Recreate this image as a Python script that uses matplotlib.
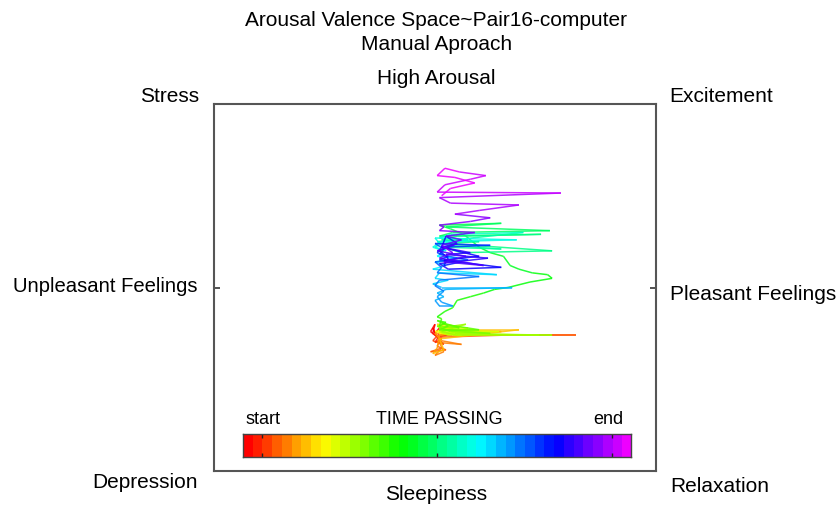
import numpy as np
import matplotlib
matplotlib.use("Agg")
import matplotlib.pyplot as plt
from matplotlib.colors import ListedColormap
from matplotlib.collections import LineCollection

plt.rcParams['font.family'] = ['Liberation Sans', 'DejaVu Sans']

# trajectory samples in time order (valence, arousal), equal time steps
valence = [
    # red -> yellow
    0.02, 0.00, -0.01, 0.01, -0.02, 0.00, -0.01, 0.03, 0.00, 0.02,
    0.10, 0.01, 0.04, -0.01, 0.02, 0.08, 0.64, 0.30, 0.03, 0.01,
    0.05, -0.02, 0.03, 0.00, 0.04, 0.02, 0.12, 0.03, 0.00, 0.15,
    0.02, 0.01, -0.01, 0.04, 0.02, 0.38, 0.05, 0.30, 0.02, 0.06,
    # green
    0.01, 0.10, 0.03, 0.20, 0.02, 0.08, 0.00, 0.12, 0.03, 0.29,
    0.04, 0.01, 0.15, 0.05, 0.47, 0.06, 0.02, 0.18, 0.04, 0.09,
    0.53, 0.10, 0.03, 0.14, 0.02, 0.07, 0.25, 0.05, 0.01, 0.11,
    0.03, 0.06, 0.02, 0.20, 0.04, 0.01, 0.05, 0.02, 0.03, 0.01,
    # spring green climb
    0.01, 0.045, 0.08, 0.10, 0.16, 0.22, 0.27, 0.33, 0.43, 0.53,
    0.51, 0.44, 0.38, 0.34, 0.31, 0.25, 0.20, 0.14, 0.11, 0.07,
    # cyan
    0.02, 0.30, 0.05, 0.52, 0.08, 0.02, 0.48, 0.10, 0.03, 0.20,
    0.05, 0.53, 0.12, 0.04, 0.30, 0.06, 0.01, 0.40, 0.07, 0.02,
    0.15, 0.03, 0.00, 0.05,
    # blue
    0.00, 0.37, 0.03, -0.01, 0.04, 0.01, 0.10, 0.00, 0.05, -0.01,
    0.28, 0.02, 0.00, 0.06, -0.01, 0.03, 0.35, 0.05, 0.01, 0.04,
    0.00, 0.02, 0.08, 0.03, 0.01, 0.04, 0.00, 0.02, 0.20, 0.01,
    0.03, 0.00, 0.15, 0.02, 0.04, 0.00, 0.25, 0.03, 0.01, 0.06,
    # violet / purple, middle
    0.02, 0.12, 0.04, 0.06, 0.02, 0.10, 0.05, 0.03, 0.20, 0.04,
    0.30, 0.06, 0.02, 0.24, 0.05, 0.16, 0.03, 0.10, 0.01, 0.14,
    0.04, 0.22, 0.02, 0.08, 0.03, 0.12, 0.05, 0.18, 0.02, 0.04,
    # violet -> magenta, top
    0.02, 0.16, 0.25, 0.09, 0.20, 0.38, 0.07, 0.02, 0.57, 0.01,
    0.045, 0.16, 0.23, 0.11, 0.045, 0.01, 0.09, 0.18, 0.07, 0.03,
]
arousal = [
    -0.22, -0.25, -0.22, -0.27, -0.24, -0.20, -0.25, -0.28, -0.30, -0.26,
    -0.25, -0.27, -0.31, -0.29, -0.25, -0.26, -0.26, -0.26, -0.27, -0.32,
    -0.34, -0.35, -0.33, -0.37, -0.35, -0.30, -0.31, -0.29, -0.25, -0.24,
    -0.26, -0.33, -0.36, -0.34, -0.28, -0.23, -0.23, -0.24, -0.25, -0.22,
    -0.20, -0.21, -0.23, -0.24, -0.25, -0.22, -0.24, -0.26, -0.25, -0.24,
    -0.23, -0.21, -0.22, -0.25, -0.26, -0.26, -0.24, -0.23, -0.22, -0.25,
    -0.26, -0.26, -0.24, -0.20, -0.22, -0.24, -0.25, -0.23, -0.21, -0.22,
    -0.19, -0.21, -0.23, -0.23, -0.20, -0.18, -0.19, -0.21, -0.17, -0.16,
    -0.16, -0.13, -0.11, -0.07, -0.05, -0.03, -0.01, 0.00, 0.03, 0.05,
    0.07, 0.08, 0.10, 0.12, 0.17, 0.19, 0.22, 0.28, 0.30, 0.32,
    0.34, 0.35, 0.33, 0.31, 0.30, 0.28, 0.29, 0.28, 0.26, 0.25,
    0.24, 0.20, 0.19, 0.22, 0.21, 0.23, 0.25, 0.30, 0.29, 0.27,
    0.26, 0.24, 0.22, 0.20,
    0.27, 0.26, 0.25, 0.22, 0.20, 0.17, 0.16, 0.14, 0.12, 0.10,
    0.07, 0.08, 0.05, 0.04, 0.02, 0.00, 0.00, -0.01, -0.03, -0.05,
    -0.07, -0.10, -0.10, -0.08, -0.05, -0.02, 0.01, 0.04, 0.06, 0.08,
    0.11, 0.14, 0.15, 0.18, 0.21, 0.24, 0.23, 0.22, 0.19, 0.17,
    0.15, 0.14, 0.12, 0.16, 0.20, 0.24, 0.28, 0.22, 0.17, 0.15,
    0.11, 0.10, 0.13, 0.16, 0.18, 0.19, 0.22, 0.24, 0.20, 0.17,
    0.14, 0.12, 0.16, 0.19, 0.23, 0.26, 0.28, 0.30, 0.31, 0.33,
    0.34, 0.36, 0.38, 0.40, 0.42, 0.45, 0.46, 0.49, 0.515, 0.52,
    0.56, 0.59, 0.61, 0.63, 0.65, 0.61, 0.60, 0.57, 0.54, 0.50,
]

n_colors = 40
cmap = ListedColormap(plt.cm.hsv(np.linspace(0, 0.833, n_colors)))

fig = plt.figure(figsize=(8.37, 5.08), dpi=100)
ax = fig.add_axes([0.2557, 0.0728, 0.528, 0.7224])

pts = np.column_stack([valence, arousal])
segs = np.stack([pts[:-1], pts[1:]], axis=1)
t = np.linspace(0, 1, len(segs))
lc = LineCollection(segs, colors=cmap(t), linewidths=1.1, alpha=0.85)
ax.add_collection(lc)

ax.set_xlim(-1, 1)
ax.set_ylim(-1, 1)
ax.set_xticks([])
ax.set_yticks([0])
ax.set_yticklabels([])
ax.tick_params(axis='y', direction='in', length=4, width=1.2, color='#333333',
               left=True, right=True)
for s in ax.spines.values():
    s.set_color('#555555')
    s.set_linewidth(1.5)

# colorbar for time
cax = fig.add_axes([0.2903, 0.1004, 0.4636, 0.0453])
cax.imshow(np.arange(n_colors)[None, :], cmap=cmap, aspect='auto',
           extent=[0, n_colors, 0, 1])
cax.set_yticks([])
cax.set_xticks([2, 20, 38])
cax.set_xticklabels([])
cax.tick_params(axis='x', direction='in', length=3, width=1, color='#222222',
                top=True, bottom=True)
for s in cax.spines.values():
    s.set_color('#444444')
    s.set_linewidth(1)

fs = 15
fig.text(0.5215, 1 - 20 / 508, 'Arousal Valence Space~Pair16-computer', ha='center', va='center', fontsize=fs)
fig.text(0.5215, 1 - 45 / 508, 'Manual Aproach', ha='center', va='center', fontsize=fs)
fig.text(0.5215, 1 - 78 / 508, 'High Arousal', ha='center', va='center', fontsize=fs)
fig.text(0.5215, 1 - 495 / 508, 'Sleepiness', ha='center', va='center', fontsize=fs)
fig.text(170 / 837, 1 - 97 / 508, 'Stress', ha='center', va='center', fontsize=fs)
fig.text(721 / 837, 1 - 97 / 508, 'Excitement', ha='center', va='center', fontsize=fs)
fig.text(198 / 837, 1 - 287 / 508, 'Unpleasant Feelings', ha='right', va='center', fontsize=14.6)
fig.text(670 / 837, 1 - 294 / 508, 'Pleasant Feelings', ha='left', va='center', fontsize=fs)
fig.text(198 / 837, 1 - 483 / 508, 'Depression', ha='right', va='center', fontsize=fs)
fig.text(670 / 837, 1 - 487 / 508, 'Relaxation', ha='left', va='center', fontsize=fs)
fig.text(263 / 837, 1 - 420 / 508, 'start', ha='center', va='center', fontsize=13)
fig.text(439 / 837, 1 - 420 / 508, 'TIME PASSING', ha='center', va='center', fontsize=13)
fig.text(608 / 837, 1 - 420 / 508, 'end', ha='center', va='center', fontsize=13)

fig.savefig('out.png', dpi=100)
